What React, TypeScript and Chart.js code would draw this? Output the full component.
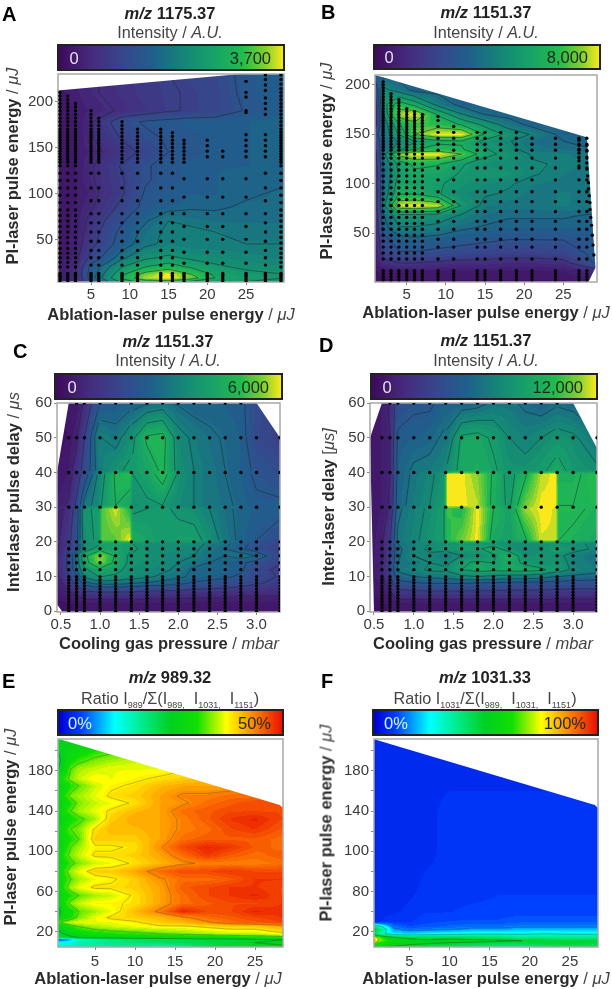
import React, { useEffect, useRef } from "react";
import { Chart, registerables } from "chart.js";

Chart.register(...registerables);

// ---------- colour scales (position on colour bar, colour) ----------
const viridisStops: [number, string][] = [
  [0, "#3e0a5c"], [0.15, "#452c7e"], [0.3, "#35498d"], [0.42, "#1f5f8c"], [0.55, "#158378"],
  [0.68, "#16a06a"], [0.82, "#22bb4e"], [0.92, "#80d030"], [1, "#f8e81c"],
];
const rainbowStops: [number, string][] = [
  [0, "#0000d0"], [0.1, "#0040ff"], [0.25, "#00ffff"], [0.35, "#00f0a0"], [0.5, "#00d020"],
  [0.62, "#10e000"], [0.75, "#ffff00"], [0.88, "#ff8000"], [1, "#e81000"],
];

// ---------- panel A : m/z 1175.37 (values: % of colour bar) ----------
const aX = [1, 3, 5, 9, 12, 15, 18, 21, 25, 30];
const aY = [230, 210, 190, 178, 160, 145, 130, 115, 100, 85, 70, 58, 45, 30, 20, 12, 8, 4];
const aValues = [
  [10, 12, 14, 18, 22, 25, 28, 30, 38, 42],
  [6, 10, 14, 18, 22, 24, 26, 28, 38, 42],
  [6, 8, 12, 16, 20, 24, 26, 28, 36, 42],
  [6, 8, 14, 32, 36, 38, 40, 40, 42, 44],
  [5, 8, 14, 26, 33, 36, 38, 40, 42, 44],
  [5, 8, 12, 20, 28, 35, 38, 40, 42, 44],
  [5, 8, 14, 26, 34, 38, 40, 42, 42, 44],
  [5, 8, 14, 24, 34, 38, 40, 42, 44, 44],
  [5, 7, 12, 24, 36, 40, 42, 42, 44, 46],
  [5, 8, 14, 28, 38, 42, 44, 44, 46, 46],
  [5, 9, 18, 34, 44, 52, 50, 48, 48, 48],
  [5, 9, 20, 38, 48, 54, 54, 52, 50, 50],
  [6, 10, 22, 40, 50, 54, 52, 52, 52, 52],
  [6, 12, 28, 50, 60, 64, 60, 58, 56, 54],
  [8, 14, 38, 62, 72, 78, 70, 64, 60, 58],
  [8, 16, 40, 70, 90, 100, 85, 70, 65, 62],
  [8, 14, 40, 74, 95, 100, 90, 72, 66, 62],
  [8, 14, 36, 65, 78, 80, 70, 65, 62, 60],
];
const aEnvelope = [[0.7, 212], [25, 230.5], [30, 231], [30, 3], [0.7, 3]];
const aDotColumns = [1, 2, 3, 5, 6, 9, 11, 14, 15.5, 17, 20, 22, 25, 27.5, 29.5];
const aDotTops = [212, 206, 200, 190, 182, 178, 172, 170, 168, 160, 160, 150, 165, 165, 230];
const aLowerRowsDense = [5, 7, 9, 11, 13, 20, 25, 30, 35, 40, 46, 52, 58, 64, 70, 76, 82, 90, 98, 106, 114, 122, 130];
const aLowerRowsSparse = [5, 7, 9, 11, 13, 22, 30, 38, 48, 58, 68, 78, 92, 106, 122];
const aLowerRowsFew = [5, 7, 9, 11, 13, 24, 36, 50, 64, 78, 96, 116];
const aUpperRowsDense = [134, 137, 140, 143, 146, 149, 152, 155, 158, 161, 164, 167, 170, 174, 178, 182, 186, 190, 194, 198, 202, 206, 210, 214, 219, 224, 229];
const aUpperRowsMid = [134, 138, 142, 146, 150, 154, 158, 162, 166, 170, 174, 178];
const aUpperRowsFew = [140, 146, 152, 158, 164];
const aLowerChoice = [0, 0, 0, 1, 1, 1, 1, 1, 1, 2, 2, 2, 2, 1, 0];
const aUpperChoice = [0, 0, 0, 0, 0, 1, 1, 1, 1, 1, 2, 2, 2, 2, 0];
const aDotExtraX = [25, 25, 25, 25, 25, 27.5, 27.5, 27.5, 27.5, 27.5, 27.5, 27.5, 27.5];
const aDotExtraY = [188, 190, 205, 210, 222, 186, 192, 198, 204, 212, 218, 224, 229];

// ---------- panel B : m/z 1151.37 ----------
const bX = [1, 2, 4, 6, 9, 12, 15, 18, 21, 25, 29];
const bY = [210, 195, 180, 170, 160, 150, 143, 135, 130, 120, 110, 100, 90, 78, 68, 55, 45, 30, 20, 12, 1];
const bValues = [
  [40, 42, 42, 42, 42, 42, 42, 42, 42, 42, 42],
  [25, 58, 50, 42, 42, 42, 42, 42, 42, 42, 42],
  [15, 60, 82, 72, 52, 42, 42, 42, 42, 42, 42],
  [15, 54, 94, 100, 74, 56, 45, 42, 42, 42, 42],
  [15, 48, 74, 84, 82, 74, 62, 50, 42, 42, 42],
  [30, 48, 66, 88, 100, 100, 74, 62, 54, 42, 42],
  [25, 44, 56, 64, 72, 74, 62, 56, 48, 45, 42],
  [20, 44, 62, 74, 80, 76, 66, 58, 50, 48, 45],
  [15, 50, 92, 100, 100, 88, 68, 62, 54, 52, 50],
  [15, 46, 68, 78, 76, 66, 60, 58, 56, 54, 50],
  [12, 44, 66, 72, 70, 64, 64, 62, 56, 52, 48],
  [15, 46, 70, 70, 66, 62, 58, 56, 52, 50, 48],
  [12, 46, 74, 74, 66, 58, 56, 54, 50, 52, 50],
  [12, 50, 98, 100, 96, 64, 52, 50, 50, 52, 50],
  [10, 44, 62, 62, 60, 54, 48, 46, 46, 46, 44],
  [10, 40, 54, 54, 52, 46, 44, 42, 42, 42, 42],
  [8, 32, 42, 44, 42, 40, 38, 36, 36, 36, 38],
  [8, 26, 34, 34, 32, 30, 28, 26, 26, 28, 38],
  [6, 16, 20, 20, 18, 16, 16, 14, 14, 16, 36],
  [4, 6, 8, 8, 8, 8, 8, 8, 8, 8, 14],
  [3, 4, 4, 4, 4, 4, 4, 4, 4, 4, 6],
];
const bEnvelope = [[0.95, 210], [28, 147], [29.1, 15], [28.2, 0.7], [0.95, 0.7]];
const bDotColumnsLeft = [2, 3, 4, 5, 6, 7];
const bDotTopsLeft = [205, 193, 186, 178, 175, 170];
const bDotRowsLeft = [3, 6, 9, 12, 24, 30, 36, 42, 48, 54, 60, 66, 72, 78, 84, 90, 96, 102, 108, 114, 120, 126, 130, 134, 137, 140, 143, 146, 149, 152, 155, 158, 161, 164, 167, 170, 173, 176, 179, 182, 185, 188, 191, 194, 197, 200, 203];
const bDotColumnsRight = [9, 11, 14, 15, 17, 19, 21, 24, 27, 28];
const bDotTopsRight = [168, 163, 157, 157, 153, 153, 150, 148, 147, 147];
const bDotRowsRight = [3, 6, 9, 12, 24, 36, 44, 54, 62, 72, 82, 92, 104, 116, 126, 134, 140, 146, 152, 158, 164, 168];
const bEdgeX = [27, 27, 27, 27, 27, 27, 27, 28, 28, 28, 28, 28, 28.1, 28.2, 28.2, 28.3, 28.4, 28.4, 28.5, 28.6, 28.7, 28.8, 28.9];
const bEdgeY = [144, 139, 135, 131, 127, 123, 118, 139, 133, 127, 121, 115, 108, 101, 95, 88, 81, 74, 66, 58, 48, 38, 28];

// ---------- panels C and D : interlaser delay vs. gas pressure ----------
const delayY = [60, 50, 40.5, 39.5, 30.5, 29.5, 20.5, 19.5, 18, 16, 14, 12, 10, 8, 5, 2, 0];
const cX = [0.45, 0.6, 0.7, 0.8, 0.98, 1.02, 1.2, 1.38, 1.42, 1.6, 1.8, 2.0, 2.2, 2.4, 2.6, 2.8, 3.0, 3.3];
const cValues = [
  [4, 5, 6, 14, 36, 38, 40, 42, 42, 45, 48, 45, 42, 42, 42, 40, 32, 25],
  [3, 5, 10, 25, 54, 54, 50, 60, 62, 78, 80, 58, 52, 48, 45, 42, 30, 25],
  [5, 8, 18, 30, 50, 54, 62, 66, 66, 70, 78, 60, 54, 50, 46, 42, 36, 32],
  [5, 8, 18, 32, 56, 60, 78, 82, 64, 70, 82, 62, 54, 50, 46, 42, 36, 32],
  [8, 14, 28, 50, 58, 64, 76, 70, 60, 62, 64, 58, 54, 50, 48, 44, 40, 40],
  [8, 16, 32, 62, 66, 86, 98, 80, 62, 64, 66, 62, 60, 54, 48, 44, 42, 42],
  [10, 22, 35, 60, 66, 86, 88, 100, 74, 70, 64, 68, 68, 60, 50, 44, 38, 30],
  [10, 22, 36, 58, 62, 68, 68, 66, 64, 60, 60, 60, 58, 52, 48, 42, 34, 28],
  [10, 24, 36, 58, 68, 68, 68, 66, 66, 60, 60, 58, 56, 50, 46, 40, 32, 26],
  [12, 28, 50, 72, 92, 92, 74, 62, 62, 62, 58, 56, 54, 48, 46, 50, 46, 28],
  [12, 28, 48, 70, 90, 90, 72, 62, 62, 60, 58, 54, 50, 46, 42, 40, 34, 26],
  [12, 28, 46, 62, 70, 70, 68, 60, 60, 58, 56, 52, 44, 44, 44, 40, 30, 22],
  [10, 24, 36, 56, 64, 64, 62, 58, 58, 56, 52, 48, 44, 42, 40, 36, 30, 24],
  [8, 18, 28, 42, 48, 48, 48, 46, 46, 44, 42, 40, 36, 34, 32, 30, 26, 22],
  [6, 10, 14, 18, 20, 20, 20, 20, 20, 18, 18, 18, 16, 16, 16, 14, 14, 14],
  [3, 4, 5, 6, 6, 6, 6, 6, 6, 6, 6, 6, 6, 6, 6, 6, 6, 6],
  [3, 4, 5, 6, 6, 6, 6, 6, 6, 6, 6, 6, 6, 6, 6, 6, 6, 6],
];
const dX = [0.45, 0.6, 0.7, 0.8, 1.0, 1.2, 1.38, 1.42, 1.6, 1.8, 2.0, 2.2, 2.4, 2.6, 2.78, 2.82, 3.0, 3.3];
const dValues = [
  [6, 8, 14, 32, 36, 36, 42, 42, 42, 44, 50, 50, 46, 42, 46, 46, 44, 40],
  [6, 8, 12, 40, 42, 44, 50, 50, 70, 72, 66, 58, 54, 58, 62, 62, 60, 50],
  [6, 8, 12, 42, 50, 52, 56, 60, 72, 74, 70, 62, 62, 66, 72, 72, 64, 60],
  [6, 8, 12, 42, 50, 56, 62, 100, 100, 92, 76, 64, 76, 96, 100, 76, 76, 82],
  [6, 8, 14, 44, 52, 58, 66, 100, 100, 96, 74, 66, 90, 100, 100, 78, 78, 80],
  [6, 8, 14, 46, 54, 60, 68, 84, 80, 100, 78, 68, 94, 100, 98, 80, 80, 76],
  [6, 10, 24, 50, 56, 62, 68, 80, 90, 100, 72, 68, 76, 98, 98, 78, 76, 72],
  [6, 10, 24, 48, 54, 58, 60, 62, 64, 62, 62, 60, 58, 60, 60, 60, 60, 56],
  [6, 10, 24, 46, 54, 60, 62, 62, 66, 66, 74, 60, 58, 60, 68, 68, 62, 56],
  [6, 10, 26, 46, 58, 56, 52, 52, 58, 60, 66, 78, 60, 62, 60, 60, 54, 48],
  [6, 12, 26, 48, 52, 58, 56, 56, 66, 70, 68, 72, 66, 62, 64, 64, 54, 50],
  [6, 12, 28, 50, 54, 60, 60, 60, 68, 72, 70, 72, 72, 70, 64, 64, 56, 52],
  [6, 10, 24, 44, 48, 50, 52, 52, 56, 58, 56, 54, 54, 52, 48, 48, 46, 44],
  [5, 8, 18, 34, 36, 38, 38, 38, 38, 36, 36, 34, 34, 34, 34, 34, 32, 32],
  [4, 6, 10, 18, 20, 20, 20, 20, 20, 20, 20, 20, 20, 20, 18, 18, 18, 18],
  [3, 4, 5, 6, 6, 6, 6, 6, 6, 6, 6, 6, 6, 6, 6, 6, 6, 6],
  [3, 4, 5, 6, 6, 6, 6, 6, 6, 6, 6, 6, 6, 6, 6, 6, 6, 6],
];
const cEnvelope = [[0.45, 40], [0.6, 60], [3.0, 60], [3.3, 50], [3.3, -0.2], [0.52, -0.2], [0.45, 2]];
const dEnvelope = [[0.45, 50], [0.6, 60], [3.0, 60], [3.3, 47], [3.3, -0.2], [0.5, -0.2]];
const delayDotColumns = [0.6, 0.7, 0.8, 1.0, 1.2, 1.4, 1.6, 1.8, 2.0, 2.2, 2.4, 2.6, 2.8, 3.0, 3.3];
const delayDotRows = [50, 40, 30, 20, 18, 16, 14, 12, 10, 9.1, 8.2, 7.3, 6.4, 5.5, 4.6, 3.7, 2.8, 1.9, 1, 0.1];
const delayTopDotColumns = [0.7, 0.8, 1.0, 1.2, 1.4, 1.6, 1.8, 2.0, 2.2, 2.4, 2.6, 2.8];
const delayTopDotRows = [60];

// ---------- panels E and F : ratios (values: % of colour bar) ----------
const ratioX = [0.4, 1, 2, 3, 5, 7, 10, 13, 16, 19, 22, 25, 28.5];
const eY = [212, 200, 190, 182, 172, 165, 155, 148, 140, 132, 122, 112, 104, 96, 88, 80, 72, 64, 56, 48, 40, 34, 29, 25, 18, 14, 12, 9, 4];
const eValues = [
  [52, 52, 52, 52, 54, 56, 58, 60, 62, 64, 66, 68, 70],
  [50, 54, 56, 58, 62, 64, 66, 68, 70, 72, 74, 76, 78],
  [48, 52, 60, 64, 68, 70, 72, 72, 72, 74, 76, 78, 80],
  [50, 54, 66, 70, 72, 74, 74, 74, 76, 78, 78, 80, 82],
  [54, 62, 68, 72, 76, 74, 76, 78, 80, 82, 82, 84, 84],
  [52, 56, 62, 66, 72, 76, 78, 82, 84, 84, 84, 86, 86],
  [54, 60, 68, 70, 74, 78, 80, 84, 88, 88, 90, 90, 90],
  [52, 56, 62, 68, 72, 74, 78, 84, 86, 90, 92, 94, 94],
  [54, 60, 66, 70, 74, 78, 82, 84, 90, 92, 94, 94, 94],
  [50, 56, 60, 64, 70, 80, 84, 84, 88, 92, 96, 98, 94],
  [54, 60, 66, 68, 78, 82, 82, 84, 88, 90, 94, 96, 92],
  [52, 58, 62, 66, 80, 80, 80, 84, 90, 92, 92, 92, 90],
  [50, 58, 66, 70, 76, 76, 78, 86, 94, 98, 96, 92, 90],
  [54, 62, 68, 72, 78, 78, 80, 84, 90, 96, 92, 90, 92],
  [52, 58, 64, 68, 72, 74, 78, 82, 86, 88, 88, 88, 90],
  [54, 62, 70, 74, 80, 80, 84, 90, 94, 94, 96, 94, 94],
  [52, 60, 66, 70, 74, 76, 80, 86, 90, 90, 92, 96, 96],
  [52, 62, 70, 74, 78, 78, 80, 84, 92, 94, 96, 96, 94],
  [50, 58, 62, 66, 70, 72, 78, 84, 90, 94, 96, 98, 94],
  [52, 60, 68, 72, 76, 76, 78, 84, 90, 92, 94, 94, 96],
  [46, 56, 60, 66, 70, 74, 82, 88, 98, 94, 94, 98, 96],
  [50, 58, 62, 68, 74, 78, 80, 82, 86, 90, 92, 94, 96],
  [64, 68, 72, 74, 74, 74, 76, 80, 82, 86, 90, 92, 94],
  [52, 56, 62, 66, 70, 72, 74, 76, 76, 78, 80, 80, 84],
  [48, 50, 54, 58, 60, 62, 64, 66, 68, 70, 72, 72, 76],
  [46, 46, 48, 50, 52, 52, 54, 54, 56, 56, 58, 60, 62],
  [10, 12, 20, 30, 34, 38, 42, 44, 44, 46, 46, 48, 50],
  [28, 28, 30, 34, 36, 38, 40, 42, 44, 46, 48, 50, 52],
  [30, 30, 30, 32, 34, 34, 36, 30, 34, 44, 46, 46, 48],
];
const fY = [212, 180, 140, 100, 60, 40, 30, 25, 22, 18, 14, 11, 8, 4];
const fValues = [
  [6, 6, 6, 6, 7, 7, 7, 7, 7, 7, 7, 7, 7],
  [5, 6, 6, 6, 7, 7, 7, 7, 7, 7, 7, 8, 8],
  [5, 6, 6, 7, 7, 7, 8, 8, 8, 8, 8, 8, 8],
  [5, 6, 6, 7, 7, 7, 8, 8, 9, 9, 9, 8, 8],
  [6, 6, 6, 7, 7, 8, 8, 8, 9, 9, 9, 9, 9],
  [6, 6, 7, 7, 8, 9, 9, 10, 10, 10, 10, 10, 10],
  [7, 7, 8, 9, 9, 10, 11, 11, 11, 12, 12, 12, 12],
  [40, 36, 26, 14, 11, 12, 13, 14, 14, 15, 15, 15, 15],
  [58, 44, 32, 18, 14, 15, 16, 18, 18, 20, 20, 20, 20],
  [44, 36, 30, 24, 22, 24, 26, 28, 28, 28, 30, 28, 28],
  [85, 70, 58, 52, 48, 46, 46, 44, 42, 38, 38, 38, 38],
  [96, 72, 64, 58, 54, 52, 54, 54, 52, 50, 48, 48, 48],
  [62, 58, 56, 54, 52, 50, 48, 46, 44, 44, 46, 48, 46],
  [56, 52, 50, 48, 44, 42, 40, 38, 36, 36, 38, 40, 38],
];
const ratioEnvelope = [[0.4, 212], [28.1, 146], [28.5, 143], [28.5, 4], [0.4, 4]];

// ---------- tick values and labels ----------
const energyXTicks = [5, 10, 15, 20, 25];
const aYTicks = [50, 100, 150, 200];
const bYTicks = [50, 100, 150, 200];
const pressureTicks = [0.5, 1.0, 1.5, 2.0, 2.5, 3.0];
const delayTicks = [0, 10, 20, 30, 40, 50, 60];
const ratioYTicks = [20, 40, 60, 80, 100, 120, 140, 160, 180, 200];
const eYLabels = ["20", "", "60", "", "100", "", "140", "", "180", ""];
const fYLabels = ["20", "", "80", "", "100", "", "140", "", "180", ""];

// ---------- layout of each panel ----------
type Pt = { x: number; y: number };
const pairs = (xs: number[], ys: number[]): Pt[] => xs.map((x, i) => ({ x, y: ys[i] }));
const columnDots = (cols: number[], tops: number[], rows: number[]): Pt[] =>
  cols.flatMap((x, i) => rows.filter((y) => y <= tops[i]).map((y) => ({ x, y })));
const chosenDots = (cols: number[], tops: number[], sets: number[][], choice: number[]): Pt[] =>
  cols.flatMap((x, i) => sets[choice[i]].filter((y) => y <= tops[i]).map((y) => ({ x, y })));
const crossDots = (cols: number[], rows: number[]): Pt[] => cols.flatMap((x) => rows.map((y) => ({ x, y })));

const panels: any[] = [
  {
    id: "A", box: [0, 0, 306, 330], area: [58, 74, 284, 282], xr: [0.74, 29.9], yr: [3.6, 230],
    gx: aX, gy: aY, grid: aValues, env: aEnvelope, stops: viridisStops, levels: [15, 25, 35, 45, 52, 62, 72, 85], lineAlpha: 0.5, bands: 32,
    dots: [
      ...chosenDots(aDotColumns, aDotTops, [aLowerRowsDense, aLowerRowsSparse, aLowerRowsFew], aLowerChoice),
      ...chosenDots(aDotColumns, aDotTops, [aUpperRowsDense, aUpperRowsMid, aUpperRowsFew], aUpperChoice),
      ...pairs(aDotExtraX, aDotExtraY),
    ],
    xTicks: energyXTicks, yTicks: aYTicks, xFmt: (v: number) => String(v), yLabels: null, xPad: 1,
    letter: [2, 14], title: [170, 13, 32], mz: "1175.37", sub: "int", bar: [57, 44, 285, 71], lo: ["0", 74], hi: ["3,700", 271],
    xTitle: ["Ablation-laser pulse energy", "μJ", 171, 314], yTitle: ["PI-laser pulse energy", "μJ", 12, 166],
  },
  {
    id: "B", box: [306, 0, 306, 330], area: [375, 75, 597, 282], xr: [0.95, 29.3], yr: [0.7, 210],
    gx: bX, gy: bY, grid: bValues, env: bEnvelope, stops: viridisStops, levels: [20, 35, 45, 55, 65, 75, 88], lineAlpha: 0.5, bands: 32,
    dots: [
      ...columnDots(bDotColumnsLeft, bDotTopsLeft, bDotRowsLeft),
      ...columnDots(bDotColumnsRight, bDotTopsRight, bDotRowsRight),
      ...pairs(bEdgeX, bEdgeY),
    ],
    xTicks: energyXTicks, yTicks: bYTicks, xFmt: (v: number) => String(v), yLabels: null, xPad: 1,
    letter: [321, 12], title: [486, 12, 32], mz: "1151.37", sub: "int", bar: [373, 44, 601, 70], lo: ["0", 389], hi: ["8,000", 588],
    xTitle: ["Ablation-laser pulse energy", "μJ", 486, 312], yTitle: ["PI-laser pulse energy", "μJ", 326, 161],
  },
  {
    id: "C", box: [0, 330, 306, 320], area: [57, 403, 280, 612], xr: [0.45, 3.3], yr: [-0.2, 60],
    gx: cX, gy: delayY, grid: cValues, env: cEnvelope, stops: viridisStops, levels: [12, 25, 38, 46, 54, 64, 76], lineAlpha: 0.45, bands: 32,
    dots: [...crossDots(delayDotColumns, delayDotRows), ...crossDots(delayTopDotColumns, delayTopDotRows)],
    xTicks: pressureTicks, yTicks: delayTicks, xFmt: (v: number) => v.toFixed(1), yLabels: null, xPad: 1,
    letter: [13, 351], title: [168, 341, 360], mz: "1151.37", sub: "int", bar: [54, 373, 283, 400], lo: ["0", 72], hi: ["6,000", 269],
    xTitle: ["Cooling gas pressure", "mbar", 169, 643], yTitle: ["Interlaser pulse delay", "μs", 13, 492],
  },
  {
    id: "D", box: [306, 330, 306, 320], area: [370, 403, 597, 612], xr: [0.45, 3.3], yr: [-0.2, 60],
    gx: dX, gy: delayY, grid: dValues, env: dEnvelope, stops: viridisStops, levels: [12, 25, 38, 48, 58, 68, 78], lineAlpha: 0.45, bands: 32,
    dots: [...crossDots(delayDotColumns, delayDotRows), ...crossDots(delayTopDotColumns, delayTopDotRows)],
    xTicks: pressureTicks, yTicks: delayTicks, xFmt: (v: number) => v.toFixed(1), yLabels: null, xPad: 1,
    letter: [319, 345], title: [486, 340, 360], mz: "1151.37", sub: "int", bar: [370, 373, 598, 400], lo: ["0", 387], hi: ["12,000", 583],
    xTitle: ["Cooling gas pressure", "mbar", 483, 643], yTitle: ["Inter-laser delay [", "μs]", 328, 507],
  },
  {
    id: "E", box: [0, 650, 306, 339], area: [58, 739, 283, 947], xr: [0.375, 28.5], yr: [4.7, 211.7],
    gx: ratioX, gy: eY, grid: eValues, env: ratioEnvelope, stops: rainbowStops, levels: [50, 66, 77, 87], lineAlpha: 0.28, bands: 60,
    dots: [],
    xTicks: energyXTicks, yTicks: ratioYTicks, xFmt: (v: number) => String(v), yLabels: eYLabels, xPad: 3,
    letter: [2, 681], title: [170, 677, 698], mz: "989.32", sub: "989", bar: [57, 709, 284, 736], lo: ["0%", 80], hi: ["50%", 271],
    xTitle: ["Ablation-laser pulse energy", "μJ", 158, 978], yTitle: ["PI-laser pulse energy", "μJ", 10, 827],
  },
  {
    id: "F", box: [306, 650, 306, 339], area: [374, 739, 598, 947], xr: [0.6, 28.5], yr: [4.7, 211.7],
    gx: ratioX, gy: fY, grid: fValues, env: ratioEnvelope, stops: rainbowStops, levels: [16, 30, 50, 70], lineAlpha: 0.3, bands: 60,
    dots: [],
    xTicks: energyXTicks, yTicks: ratioYTicks, xFmt: (v: number) => String(v), yLabels: fYLabels, xPad: 3,
    letter: [321, 681], title: [485, 677, 698], mz: "1031.33", sub: "1031", bar: [372, 709, 599, 736], lo: ["0%", 396], hi: ["100%", 586],
    xTitle: ["Ablation-laser pulse energy", "μJ", 486, 978], yTitle: ["PI-laser pulse energy", "μJ", 326, 823],
  },
];

// ---------- drawing helpers ----------
const hexRgb = (h: string) => [parseInt(h.slice(1, 3), 16), parseInt(h.slice(3, 5), 16), parseInt(h.slice(5, 7), 16)];
function colourAt(stops: [number, string][], t: number) {
  const v = Math.max(0, Math.min(1, t));
  for (let i = 1; i < stops.length; i++) {
    if (v <= stops[i][0]) {
      const [a, ca] = stops[i - 1];
      const [b, cb] = stops[i];
      const f = (v - a) / (b - a);
      const A = hexRgb(ca), B = hexRgb(cb);
      return [0, 1, 2].map((k) => A[k] + (B[k] - A[k]) * f);
    }
  }
  return hexRgb(stops[stops.length - 1][1]);
}
function locate(arr: number[], v: number): [number, number] {
  const asc = arr[1] > arr[0];
  for (let i = 0; i < arr.length - 1; i++) {
    const a = arr[i], b = arr[i + 1];
    if (asc ? v <= b : v >= b) return [i, Math.max(0, Math.min(1, (v - a) / (b - a)))];
  }
  return [arr.length - 2, 1];
}

const heatPlugin = (p: any) => ({
  id: "contourField" + p.id,
  beforeDatasetsDraw(chart: any) {
    const { ctx, chartArea: ca, scales } = chart;
    const sx = scales.x, sy = scales.y;
    const w = Math.round(ca.right - ca.left), h = Math.round(ca.bottom - ca.top);
    const off = document.createElement("canvas");
    off.width = w; off.height = h;
    const oc = off.getContext("2d")!;
    const img = oc.createImageData(w, h);
    const xl = Array.from({ length: w }, (_, i) => locate(p.gx, sx.getValueForPixel(ca.left + i + 0.5)));
    for (let j = 0; j < h; j++) {
      const [r, u] = locate(p.gy, sy.getValueForPixel(ca.top + j + 0.5));
      for (let i = 0; i < w; i++) {
        const [c, t] = xl[i];
        const v = (p.grid[r][c] * (1 - t) + p.grid[r][c + 1] * t) * (1 - u) +
          (p.grid[r + 1][c] * (1 - t) + p.grid[r + 1][c + 1] * t) * u;
        const col = colourAt(p.stops, Math.round((v / 100) * p.bands) / p.bands);
        const o = (j * w + i) * 4;
        img.data[o] = col[0]; img.data[o + 1] = col[1]; img.data[o + 2] = col[2]; img.data[o + 3] = 255;
      }
    }
    oc.putImageData(img, 0, 0);
    ctx.save();
    ctx.beginPath();
    p.env.forEach(([x, y]: number[], i: number) => {
      const px = sx.getPixelForValue(x), py = sy.getPixelForValue(y);
      if (i) ctx.lineTo(px, py); else ctx.moveTo(px, py);
    });
    ctx.closePath();
    ctx.clip();
    ctx.drawImage(off, ca.left, ca.top, w, h);
    // contour lines: marching squares over the value grid
    ctx.strokeStyle = `rgba(25,40,40,${p.lineAlpha})`;
    ctx.lineWidth = 1;
    const P = (x: number, y: number) => [sx.getPixelForValue(x), sy.getPixelForValue(y)];
    ctx.beginPath();
    for (const L of p.levels) {
      for (let r = 0; r < p.gy.length - 1; r++) {
        for (let c = 0; c < p.gx.length - 1; c++) {
          const a = p.grid[r][c], b = p.grid[r][c + 1], d = p.grid[r + 1][c], e = p.grid[r + 1][c + 1];
          const x0 = p.gx[c], x1 = p.gx[c + 1], y0 = p.gy[r], y1 = p.gy[r + 1];
          // very narrow cells only carry a sharp colour step, not a contour
          if (Math.abs(sx.getPixelForValue(x1) - sx.getPixelForValue(x0)) < 4.5) continue;
          if (Math.abs(sy.getPixelForValue(y1) - sy.getPixelForValue(y0)) < 3.6 && p.stops === viridisStops && p.gy === delayY) continue;
          const hits: number[][] = [];
          if ((a < L) !== (b < L)) hits.push(P(x0 + ((L - a) / (b - a)) * (x1 - x0), y0));
          if ((b < L) !== (e < L)) hits.push(P(x1, y0 + ((L - b) / (e - b)) * (y1 - y0)));
          if ((d < L) !== (e < L)) hits.push(P(x0 + ((L - d) / (e - d)) * (x1 - x0), y1));
          if ((a < L) !== (d < L)) hits.push(P(x0, y0 + ((L - a) / (d - a)) * (y1 - y0)));
          for (let k = 0; k + 1 < hits.length; k += 2) {
            ctx.moveTo(hits[k][0], hits[k][1]);
            ctx.lineTo(hits[k + 1][0], hits[k + 1][1]);
          }
        }
      }
    }
    ctx.stroke();
    ctx.restore();
    ctx.save();
    ctx.strokeStyle = "#a8a8a8";
    ctx.lineWidth = 1.5;
    ctx.strokeRect(ca.left, ca.top, ca.right - ca.left, ca.bottom - ca.top);
    ctx.restore();
  },
});

function Panel({ p }: { p: any }) {
  const ref = useRef<HTMLCanvasElement>(null);
  useEffect(() => {
    const [bx, by, bw, bh] = p.box;
    const [l, t, r, b] = p.area;
    const tickFont = { family: "'Liberation Sans', Arial, sans-serif", size: 15 };
    const chart = new Chart(ref.current!, {
      type: "scatter",
      data: {
        datasets: [{
          data: p.dots, backgroundColor: "#000", borderColor: "#000",
          pointRadius: 1.7, pointBorderWidth: 0, pointHoverRadius: 1.7,
        }],
      },
      options: {
        animation: false, responsive: false,
        layout: { padding: { left: 0, top: t - by, right: bx + bw - r, bottom: 0 } },
        plugins: { legend: { display: false }, tooltip: { enabled: false }, title: { display: false } },
        scales: {
          x: {
            type: "linear", min: p.xr[0], max: p.xr[1],
            afterBuildTicks: (s: any) => { s.ticks = p.xTicks.map((value: number) => ({ value })); },
            afterFit: (s: any) => { s.height = by + bh - b; },
            grid: { drawOnChartArea: false, tickLength: 3, color: "#888" },
            border: { display: false },
            ticks: { font: tickFont, color: "#3a3a3a", padding: p.xPad, maxRotation: 0, autoSkip: false, callback: (v: any) => p.xFmt(Number(v)) },
          },
          y: {
            type: "linear", min: p.yr[0], max: p.yr[1],
            afterBuildTicks: (s: any) => { s.ticks = p.yTicks.map((value: number) => ({ value })); },
            afterFit: (s: any) => { s.width = l - bx; },
            grid: { drawOnChartArea: false, tickLength: 3, color: "#888" },
            border: { display: false },
            ticks: {
              font: tickFont, color: "#3a3a3a", padding: 2, autoSkip: false,
              callback: (v: any) => {
                if (!p.yLabels) return String(v);
                return p.yLabels[p.yTicks.indexOf(Number(v))] ?? "";
              },
            },
          },
        },
      } as any,
      plugins: [heatPlugin(p)],
    });
    return () => chart.destroy();
  }, [p]);
  const [bx, by, bw, bh] = p.box;
  return <canvas ref={ref} width={bw} height={bh} style={{ position: "absolute", left: bx, top: by, width: bw, height: bh }} />;
}

const FONT = "'Liberation Sans', Arial, sans-serif";
const abs = (x: number, y: number, extra: any = {}): any => ({
  position: "absolute", left: x, top: y, transform: "translate(-50%,-50%)", whiteSpace: "nowrap", fontFamily: FONT, ...extra,
});
const Sub = ({ t }: { t: string }) => <sub style={{ fontSize: 9, lineHeight: 0 }}>{t}</sub>;

function Texts({ p }: { p: any }) {
  const [bl, bt, br, bb] = p.bar;
  const grad = p.stops.map(([s, c]: [number, string]) => `${c} ${s * 100}%`).join(",");
  const dark = p.stops === viridisStops;
  return (
    <>
      <div style={{ position: "absolute", left: p.letter[0], top: p.letter[1], transform: "translateY(-50%)", fontFamily: FONT, fontWeight: 700, fontSize: 20, color: "#000" }}>{p.id}</div>
      <div style={abs(p.title[0], p.title[1], { fontSize: 16.5, fontWeight: 700, color: "#222" })}>
        <i>m/z</i> {p.mz}
      </div>
      <div style={abs(p.title[0], p.title[2], { fontSize: 16.2, color: "#444" })}>
        {p.sub === "int" ? <>Intensity / <i>A.U.</i></> : <>Ratio I<Sub t={p.sub} />/Σ(I<Sub t="989," />&nbsp; I<Sub t="1031," />&nbsp; I<Sub t="1151" />)</>}
      </div>
      <div style={{ position: "absolute", left: bl, top: bt, width: br - bl, height: bb - bt, boxSizing: "border-box", border: "2px solid #222", background: `linear-gradient(to right, ${grad})` }} />
      <div style={abs(p.lo[1], (bt + bb) / 2, { fontSize: 16.5, color: dark ? "#e8e0ee" : "#d8f4ff" })}>{p.lo[0]}</div>
      <div style={{ position: "absolute", right: 612 - p.hi[1], top: (bt + bb) / 2, transform: "translateY(-50%)", fontFamily: FONT, fontSize: 16.5, color: "#1c2a1c" }}>{p.hi[0]}</div>
      <div style={abs(p.xTitle[2], p.xTitle[3], { fontSize: 16.5, fontWeight: 700, color: "#2a2a2a" })}>
        {p.xTitle[0]} <span style={{ fontWeight: 400, color: "#444" }}>/ <i>{p.xTitle[1]}</i></span>
      </div>
      <div style={abs(p.yTitle[2], p.yTitle[3], { fontSize: 16.5, fontWeight: 700, color: "#2a2a2a", transform: "translate(-50%,-50%) rotate(-90deg)" })}>
        {p.yTitle[0].endsWith("[") ? <>{p.yTitle[0].slice(0, -1)}<span style={{ fontWeight: 400, color: "#444" }}>[<i>{p.yTitle[1]}</i></span></> : <>{p.yTitle[0]} <span style={{ fontWeight: 400, color: "#444" }}>/ <i>{p.yTitle[1]}</i></span></>}
      </div>
    </>
  );
}

export default function App() {
  return (
    <div style={{ position: "absolute", left: 0, top: 0, width: 612, height: 989, overflow: "hidden", background: "#fff", filter: "blur(0.4px)" }}>
      {panels.map((p) => <Panel key={p.id} p={p} />)}
      {panels.map((p) => <Texts key={p.id} p={p} />)}
    </div>
  );
}
